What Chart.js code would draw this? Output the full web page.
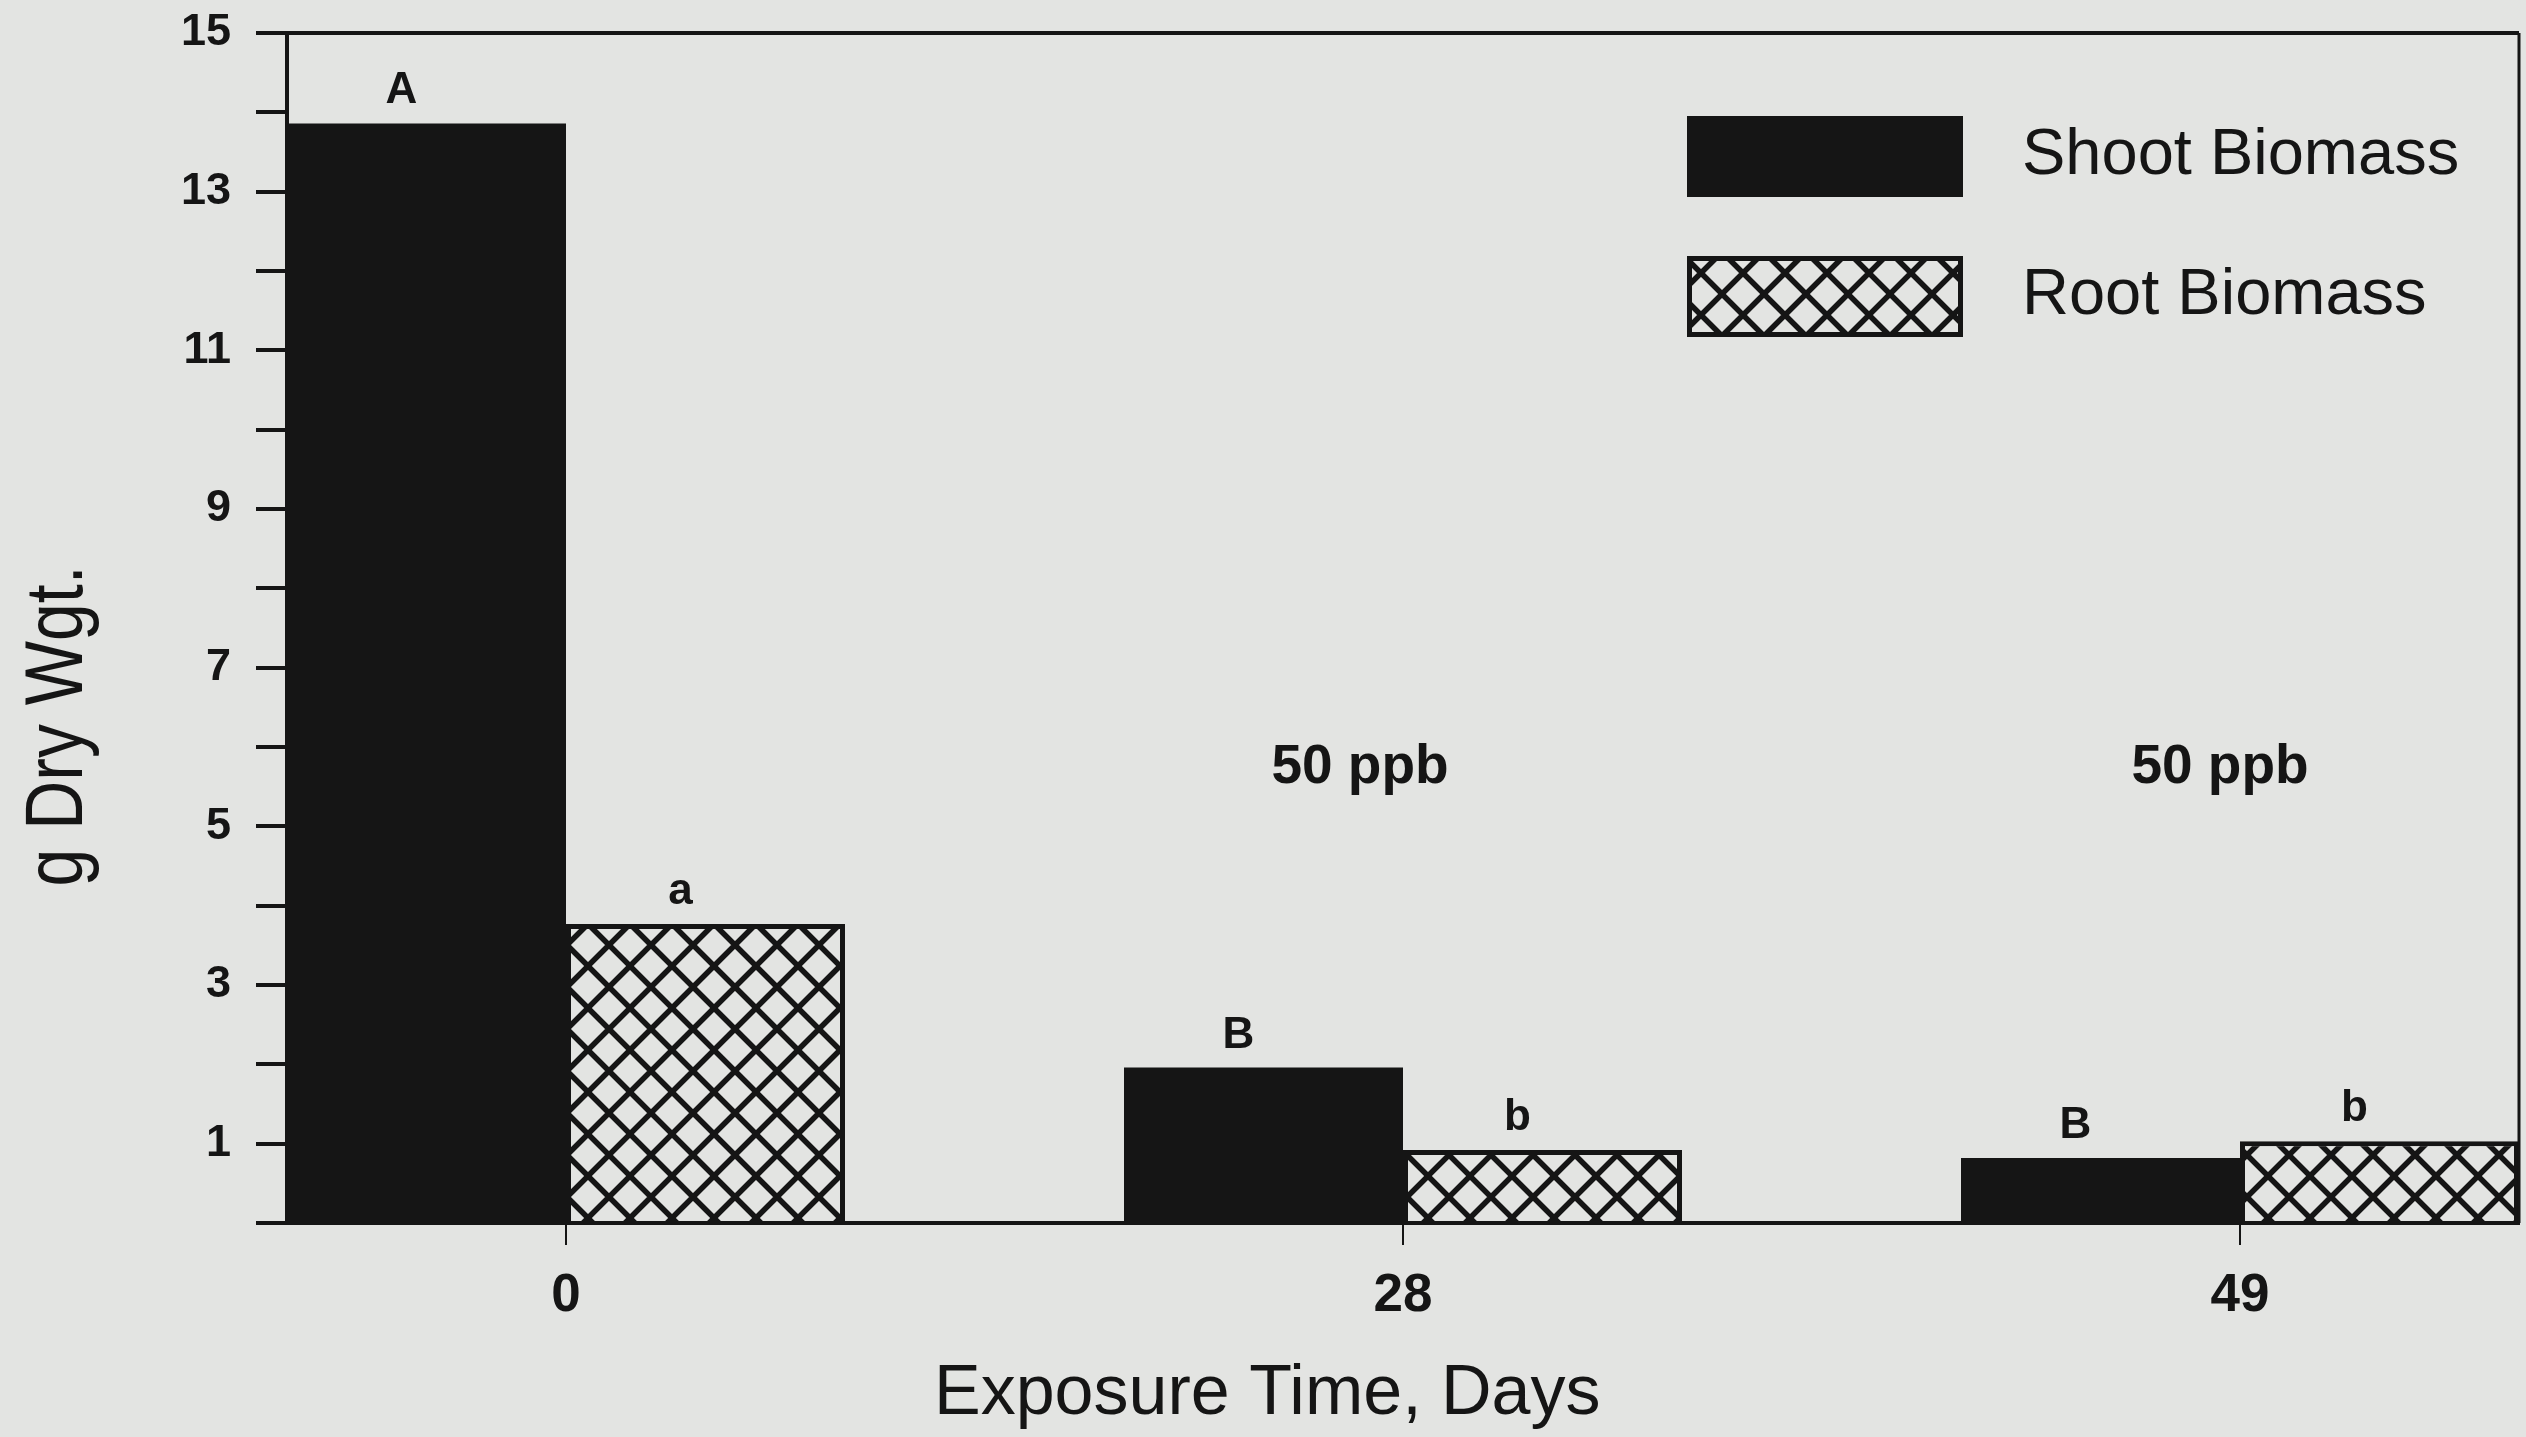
<!DOCTYPE html>
<html>
<head>
<meta charset="utf-8">
<script src="https://cdn.jsdelivr.net/npm/chart.js@4.4.1/dist/chart.umd.min.js"></script>
<style>
  html, body { margin: 0; padding: 0; background: #e3e4e2; }
  canvas { display: block; }
</style>
</head>
<body>
<canvas id="biomass" width="2526" height="1437"></canvas>
<script>
// Exposure time groups and measured dry weights (g)
const exposureDays = ['0', '28', '49'];
const shootBiomass = [13.86, 1.96, 0.82];
const rootBiomass = [3.77, 0.92, 1.03];
// Significance groupings printed above each bar
const shootGroups = ['A', 'B', 'B'];
const rootGroups = ['a', 'b', 'b'];
// Dose note shown over the exposed groups
const doseNotes = ['', '50 ppb', '50 ppb'];
// Labelled ticks on the dry-weight axis (every unit gets a tick mark)
const yLabelledTicks = [1, 3, 5, 7, 9, 11, 13, 15];

const INK = '#151515';
const PAPER = '#e3e4e2';
const FONT = '"Liberation Sans", Arial, Helvetica, sans-serif';

// Diagonal cross-hatch used for the root bars
function crossHatch() {
  const s = 42;
  const tile = document.createElement('canvas');
  tile.width = s; tile.height = s;
  const g = tile.getContext('2d');
  g.fillStyle = PAPER;
  g.fillRect(0, 0, s, s);
  g.strokeStyle = INK;
  g.lineWidth = 5.5;
  g.beginPath();
  g.moveTo(-3, -3); g.lineTo(s + 3, s + 3);
  g.moveTo(s + 3, -3); g.lineTo(-3, s + 3);
  g.stroke();
  return g.createPattern(tile, 'repeat');
}
const hatch = crossHatch();

const paperBackground = {
  id: 'paperBackground',
  beforeDraw(chart) {
    const c = chart.ctx;
    c.save();
    c.fillStyle = PAPER;
    c.fillRect(0, 0, chart.width, chart.height);
    c.restore();
  }
};

// Top and right edges of the plotting frame
const frame = {
  id: 'frame',
  afterDatasetsDraw(chart) {
    const { ctx: c, chartArea: a } = chart;
    c.save();
    c.strokeStyle = INK;
    c.lineWidth = 4;
    c.beginPath();
    c.moveTo(a.left - 31, a.top);
    c.lineTo(a.right, a.top);
    c.stroke();
    c.lineWidth = 3;
    c.beginPath();
    c.moveTo(a.right, a.top);
    c.lineTo(a.right, a.bottom);
    c.stroke();
    c.restore();
  }
};

// Letter groupings above the bars and the dose notes
const annotations = {
  id: 'annotations',
  afterDatasetsDraw(chart, args, opts) {
    const c = chart.ctx;
    const letters = [shootGroups, rootGroups];
    c.save();
    c.fillStyle = INK;
    c.textAlign = 'center';
    c.textBaseline = 'alphabetic';
    c.font = 'bold 44px ' + FONT;
    chart.data.datasets.forEach((ds, i) => {
      chart.getDatasetMeta(i).data.forEach((bar, j) => {
        c.fillText(letters[i][j], bar.x - 25, bar.y - 20);
      });
    });
    const xs = chart.scales.x, ys = chart.scales.y;
    c.font = 'bold 55px ' + FONT;
    c.textBaseline = 'middle';
    doseNotes.forEach((note, j) => {
      if (!note) return;
      c.fillText(note, xs.getPixelForValue(j) + opts.noteShift[j], ys.getPixelForValue(opts.noteLevel));
    });
    c.restore();
  }
};

// Legend box in the upper right of the plot
const boxLegend = {
  id: 'boxLegend',
  afterDraw(chart) {
    const c = chart.ctx;
    const left = 1687, top = 116, w = 276, h = 81, step = 140;
    c.save();
    chart.data.datasets.forEach((ds, i) => {
      const y = top + i * step;
      c.fillStyle = ds.backgroundColor;
      c.fillRect(left, y, w, h);
      c.strokeStyle = INK;
      c.lineWidth = 5;
      c.strokeRect(left + 2.5, y + 2.5, w - 5, h - 5);
      c.fillStyle = INK;
      c.font = '65px ' + FONT;
      c.textAlign = 'left';
      c.textBaseline = 'middle';
      c.fillText(ds.label, left + 335, y + h / 2);
    });
    c.restore();
  }
};

// Axis titles
const axisTitles = {
  id: 'axisTitles',
  afterDraw(chart) {
    const c = chart.ctx;
    c.save();
    c.fillStyle = INK;
    c.font = '70px ' + FONT;
    c.textAlign = 'left';
    c.textBaseline = 'alphabetic';
    c.fillText('Exposure Time, Days', 934, 1414);
    c.font = '68px ' + FONT;
    c.translate(82, 726);
    c.rotate(-Math.PI / 2);
    c.scale(1, 1.2);
    c.textAlign = 'center';
    c.fillText('g Dry Wgt.', 0, 0);
    c.restore();
  }
};

new Chart(document.getElementById('biomass'), {
  type: 'bar',
  data: {
    datasets: [
      {
        label: 'Shoot Biomass',
        data: shootBiomass.map((v, i) => ({ x: i, y: v })),
        backgroundColor: INK,
        borderColor: INK,
        borderWidth: 0,
        categoryPercentage: 2 / 3,
        barPercentage: 1
      },
      {
        label: 'Root Biomass',
        data: rootBiomass.map((v, i) => ({ x: i, y: v })),
        backgroundColor: hatch,
        borderColor: INK,
        borderWidth: 5,
        categoryPercentage: 2 / 3,
        barPercentage: 1
      }
    ]
  },
  options: {
    responsive: false,
    animation: false,
    devicePixelRatio: 1,
    layout: { padding: { top: 33, right: 7, left: 0, bottom: 0 } },
    plugins: {
      legend: { display: false },
      tooltip: { enabled: false },
      annotations: { noteShift: [0, -43, -20], noteLevel: 5.74 }
    },
    scales: {
      x: {
        type: 'linear',
        min: -1 / 3,
        max: 7 / 3,
        offset: false,
        afterBuildTicks: s => { s.ticks = exposureDays.map((_, i) => ({ value: i })); },
        afterFit: s => { s.height = 214; s.paddingLeft = 0; s.paddingRight = 0; },
        ticks: {
          autoSkip: false,
          maxRotation: 0,
          padding: 20,
          color: INK,
          font: { family: FONT, size: 53, weight: 'bold' },
          callback: v => exposureDays[v]
        },
        grid: { offset: false, drawOnChartArea: false, tickLength: 22, lineWidth: 2, color: INK },
        border: { display: true, width: 4, color: INK }
      },
      y: {
        min: 0,
        max: 15,
        afterFit: s => { s.width = 287; s.paddingTop = 0; s.paddingBottom = 0; },
        ticks: {
          stepSize: 1,
          autoSkip: false,
          padding: 25,
          color: INK,
          font: { family: FONT, size: 45, weight: 'bold' },
          callback: v => yLabelledTicks.includes(v) ? String(v) : ''
        },
        grid: { drawOnChartArea: false, tickLength: 31, lineWidth: 4, color: INK },
        border: { display: true, width: 4, color: INK }
      }
    }
  },
  plugins: [paperBackground, frame, annotations, boxLegend, axisTitles]
});
</script>
</body>
</html>
